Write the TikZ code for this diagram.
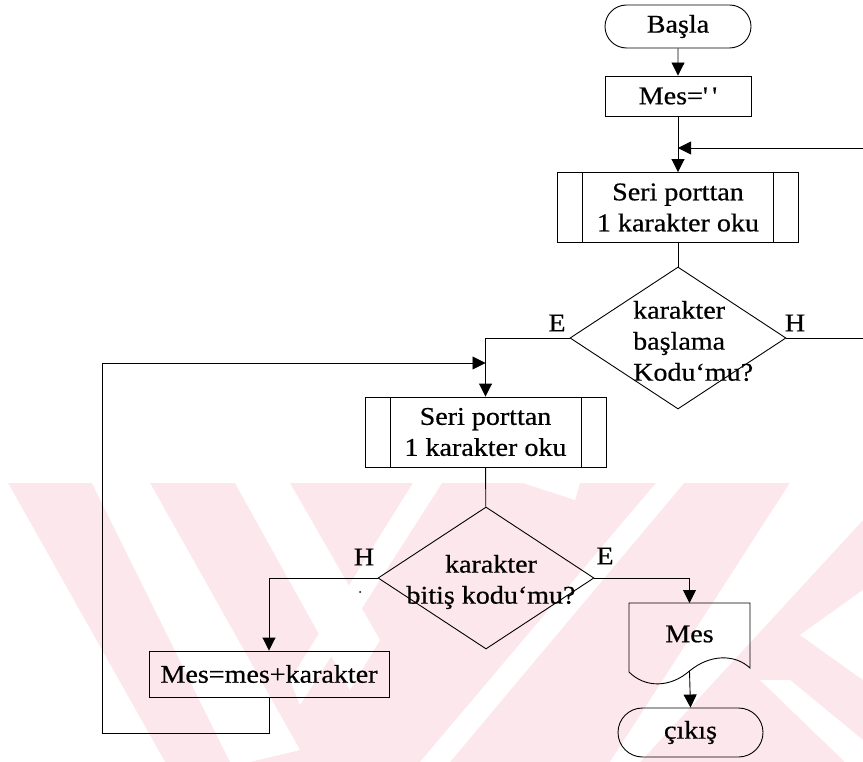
\documentclass[tikz,border=0pt]{standalone}
\usepackage{fontspec}
\setmainfont{Liberation Serif}[FakeStretch=1.1,FakeBold=0.6]
\newfontfamily\plainquotes{Liberation Serif}[FakeStretch=1.1,FakeBold=0.6,Ligatures=TeXOff]
\usetikzlibrary{shapes.geometric,shapes.misc,arrows.meta}
\definecolor{wmpink}{RGB}{252,231,236}

\begin{document}
\begin{tikzpicture}[x=1pt,y=-1pt,
  every node/.style={font=\fontsize{25.5}{31}\selectfont, inner sep=0pt},
  line/.style={draw, line width=0.9pt},
  arr/.style={line, -{Triangle[length=13pt,width=13pt]}},
  term/.style={line, rounded rectangle},
  proc/.style={line, rectangle},
  subr/.style={line, rectangle, minimum width=241pt, minimum height=70pt, align=center,
    path picture={
      \draw[line width=0.9pt] ([xshift=25pt]path picture bounding box.north west) -- ([xshift=25pt]path picture bounding box.south west);
      \draw[line width=0.9pt] ([xshift=-25pt]path picture bounding box.north east) -- ([xshift=-25pt]path picture bounding box.south east);}},
  dec/.style={line, diamond, minimum width=216pt, minimum height=142pt},
  lbl/.style={}]

\useasboundingbox (0,0) rectangle (863,762);

% faint striped background band
\begin{scope}
  \clip (0,483) rectangle (863,762);
  \fill[wmpink] (0,483) rectangle (863,762);
  \fill[white] (0,483) -- (8,483) -- (165,762) -- (0,762) -- cycle;
  \fill[white] (92,483) -- (150,483) -- (300,750) -- (250,762) -- (230,762) -- cycle;
  \fill[white] (235,483) -- (290,483) -- (380,640) -- (350,690) -- cycle;
  \fill[white] (413,483) -- (442,483) -- (300,705) -- (290,680) -- cycle;
  \fill[white] (523,483) -- (580,483) -- (575,500) -- cycle;
  \fill[white] (656,483) -- (684,483) -- (450,762) -- (420,762) -- cycle;
  \fill[white] (790,483) -- (863,483) -- (863,520) -- (640,762) -- (610,762) -- cycle;
  \fill[white] (863,590) -- (800,635) -- (863,680) -- cycle;
  \fill[white] (760,680) -- (790,680) -- (863,740) -- (863,762) -- (845,762) -- cycle;
\end{scope}

% flowchart nodes
\node[term, minimum width=146pt, minimum height=43pt] (start) at (678,26.5) {Başla};
\node[proc, minimum width=146pt, minimum height=40pt] (init) at (678,96) {{\plainquotes Mes='\,'}};
\node[subr] (read1) at (678,207.5) {Seri porttan\\1 karakter oku};
\node[dec] (d1) at (678,338) {};
\node[anchor=west, align=left] (d1text) at (633,341) {karakter\\başlama\\Kodu`mu?};
\node[subr] (read2) at (485.5,432) {Seri porttan\\1 karakter oku};
\node[dec] (d2) at (486,578) {};
\node[align=center] (d2text) at (491,582) {karakter\\bitiş kodu`mu?};
\node[proc, minimum width=240pt, minimum height=46pt] (add) at (269,674) {Mes=mes+karakter};
\node (doc) at (689.5,634) {Mes};
\node[term, minimum width=145pt, minimum height=49pt] (end) at (690.5,732.5) {çıkış};

% branch labels
\node[lbl] (e1) at (557,323) {E};
\node[lbl] (h1) at (795,323) {H};
\node[lbl] (h2) at (364,557) {H};
\node[lbl] (e2) at (605,556) {E};
\fill (360,592) circle (1pt);

% document symbol
\coordinate (docn) at (689.5,603);
\coordinate (docb) at (689.5,671);
\draw[line width=0.9pt] (629,672) -- (629,603) -- (750,603) -- (750,668)
  .. controls (735,654) and (710,654) .. (docb)
  .. controls (670,688) and (645,688) .. (629,672);

% connectors
\coordinate (rin) at (863,148);
\coordinate (rout) at (863,338);
\coordinate (loopb) at (102,733);
\coordinate (loopt) at (102,363);

\draw[arr] (start) -- (init);
\draw[arr] (init) -- (read1);
\draw[arr] (rin) -- (rin -| init.south);
\draw[line] (read1) -- (d1);
\draw[line] (d1.east) -- (rout);
\draw[arr] (d1.west) -| (read2.north);
\draw[line] (read2) -- (d2);
\draw[arr] (d2.west) -| (add.north);
\draw[arr] (d2.east) -| (docn);
\draw[arr] (docb) -- (end.north);
\draw[arr] (add.south) |- (loopb) -- (loopt) -- (loopt -| read2.north);

\end{tikzpicture}
\end{document}
